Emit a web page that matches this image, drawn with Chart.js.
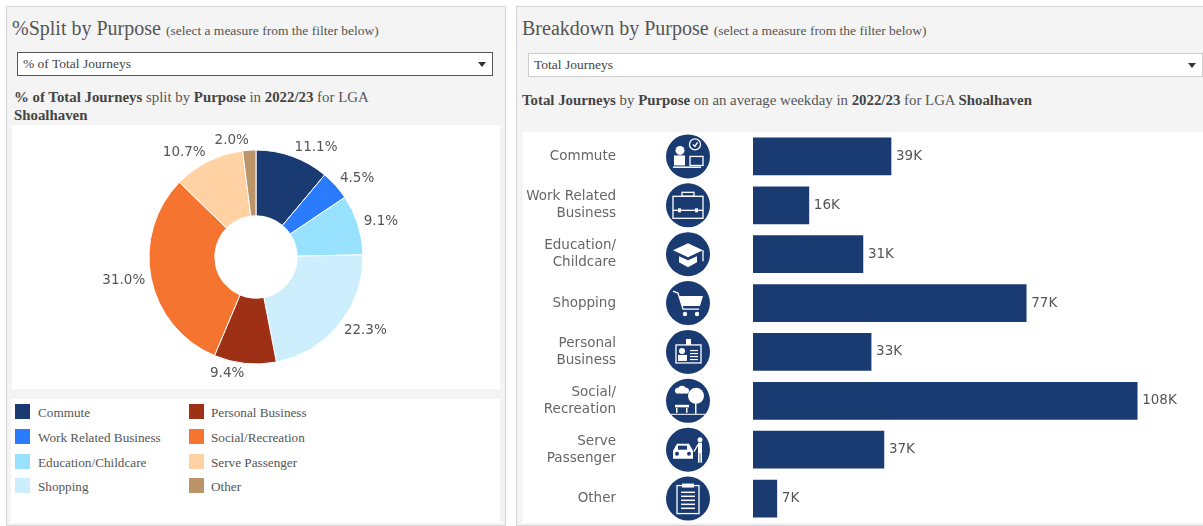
<!DOCTYPE html>
<html>
<head>
<meta charset="utf-8">
<title>Purpose split and breakdown</title>
<script src="https://cdn.jsdelivr.net/npm/chart.js@4/dist/chart.umd.min.js"></script>
<style>
  html, body { margin: 0; padding: 0; background: #fff; }
  body { width: 1203px; height: 526px; position: relative; overflow: hidden; font-family: "Liberation Serif", serif; color: #555; }
  .panel { position: absolute; background: #f4f4f4; border: 1px solid #d4d4d4; box-sizing: border-box; }
  .box { position: absolute; background: #fff; }
  .head { position: absolute; white-space: nowrap; font-size: 20px; color: #555; }
  .head small { font-size: 13.5px; }
  .note { position: absolute; font-size: 14.85px; line-height: 18px; color: #555; }
  .note b { color: #444; }
  .filter { position: absolute; background: #fff; box-sizing: border-box; font-size: 13.5px; color: #444; line-height: 22px; padding-left: 5px; }
  .filter:after { content: ""; position: absolute; right: 6px; top: 9px; border: 4px solid transparent; border-top: 5px solid #333; border-bottom: 0; }
  .swatch { position: absolute; width: 15px; height: 15px; }
  .key { position: absolute; font-size: 13.2px; line-height: 15px; white-space: nowrap; }
  canvas { position: absolute; left: 0; top: 0; }
</style>
</head>
<body>
<div class="panel" style="left:6px;top:6px;width:500px;height:520px"></div>
<div class="panel" style="left:516px;top:6px;width:690px;height:520px"></div>

<div class="head" style="left:12px;top:17px">%Split by Purpose <small>(select a measure from the filter below)</small></div>
<div class="filter" style="left:17px;top:52px;width:476px;height:24px;border:1px solid #555">% of Total Journeys</div>
<div class="note" style="left:14px;top:88px;width:370px"><b>% of Total Journeys</b> split by <b>Purpose</b> in <b>2022/23</b> for LGA <b>Shoalhaven</b></div>
<div class="box" style="left:12px;top:125px;width:488px;height:264px"><canvas id="pieChart" width="488" height="264"></canvas></div>
<div class="box" id="legendBox" style="left:11px;top:399px;width:489px;height:124px"></div>

<div class="head" style="left:522px;top:17px">Breakdown by Purpose <small>(select a measure from the filter below)</small></div>
<div class="filter" style="left:528px;top:53px;width:675px;height:24px;border:1px solid #ccc">Total Journeys</div>
<div class="note" style="left:522px;top:91px;white-space:nowrap"><b>Total Journeys</b> by <b>Purpose</b> on an average weekday in <b>2022/23</b> for LGA <b>Shoalhaven</b></div>
<div class="box" style="left:523px;top:132px;width:680px;height:391px"><canvas id="barChart" width="680" height="391"></canvas></div>

<script>
const purposes = ["Commute", "Work Related Business", "Education/Childcare", "Shopping", "Personal Business", "Social/Recreation", "Serve Passenger", "Other"];
const barLabels = [["Commute"], ["Work Related", "Business"], ["Education/", "Childcare"], ["Shopping"], ["Personal", "Business"], ["Social/", "Recreation"], ["Serve", "Passenger"], ["Other"]];
const sharePct = [11.1, 4.5, 9.1, 22.3, 9.4, 31.0, 10.7, 2.0];
const journeysK = [38.8, 15.7, 30.9, 76.8, 33.2, 108, 36.8, 6.7];
const purposeColors = ["#1a3a72", "#2b7bff", "#99e2ff", "#cdeefd", "#9e3015", "#f57430", "#ffd1a3", "#bb9568"];

const labelFont = '13.5px "DejaVu Sans"';
const navy = "#1a3a72";

// legend is two columns of four
const legendBox = document.getElementById("legendBox");
purposes.forEach((name, i) => {
    const col = i < 4 ? 0 : 1;
    const rowTop = [5, 30, 55, 79][i % 4];
    const sw = document.createElement("div");
    sw.className = "swatch";
    sw.style.cssText = `left:${col ? 178 : 4}px;top:${rowTop}px;background:${purposeColors[i]}`;
    const key = document.createElement("div");
    key.className = "key";
    key.style.cssText = `left:${col ? 200 : 27}px;top:${rowTop + 1}px`;
    key.textContent = name;
    legendBox.append(sw, key);
});

// Percent labels outside the doughnut, text hangs away from the centre
const sliceLabels = {
    id: "sliceLabels",
    afterDatasetsDraw(chart) {
        const ctx = chart.ctx;
        ctx.save();
        ctx.font = labelFont;
        ctx.fillStyle = "#555";
        ctx.textBaseline = "middle";
        chart.getDatasetMeta(0).data.forEach((arc, i) => {
            const mid = (arc.startAngle + arc.endAngle) / 2;
            const cos = Math.cos(mid);
            const sin = Math.sin(mid);
            ctx.textAlign = cos >= 0 ? "left" : "right";
            ctx.fillText(sharePct[i].toFixed(1) + "%", arc.x + cos * (arc.outerRadius + 6), arc.y + sin * (arc.outerRadius + 10));
        });
        ctx.restore();
    }
};

new Chart(document.getElementById("pieChart"), {
    type: "doughnut",
    data: {
        labels: purposes,
        datasets: [{
            data: sharePct,
            backgroundColor: purposeColors,
            borderColor: "#fff",
            borderWidth: 1,
            radius: 107,
            cutout: "38.5%"
        }]
    },
    options: {
        responsive: false,
        animation: false,
        plugins: { legend: { display: false }, tooltip: { enabled: false } }
    },
    plugins: [sliceLabels]
});

// White glyphs for the round icons, drawn around the circle centre
function line(ctx, pts, close) {
    ctx.beginPath();
    pts.forEach((p, i) => i ? ctx.lineTo(p[0], p[1]) : ctx.moveTo(p[0], p[1]));
    if (close) ctx.closePath();
}
function dot(ctx, x, y, r) {
    ctx.beginPath();
    ctx.arc(x, y, r, 0, Math.PI * 2);
    ctx.fill();
}
const iconGlyphs = [
    ctx => { // person at laptop with clock
        dot(ctx, -8, -6, 4.5);
        ctx.fillRect(-14, -1, 11, 10);
        ctx.fillRect(-15, 10, 28, 1.5);
        ctx.strokeRect(2, 0, 13, 9);
        ctx.beginPath(); ctx.arc(7, -12, 5.5, 0, Math.PI * 2); ctx.stroke();
        line(ctx, [[5, -12], [7, -10], [9.5, -14]]); ctx.stroke();
    },
    ctx => { // briefcase
        ctx.strokeRect(-15, -9, 30, 22);
        ctx.strokeRect(-6, -13, 12, 4);
        line(ctx, [[-15, 5], [15, 5]]); ctx.stroke();
        ctx.fillRect(-10, 3, 3, 4);
        ctx.fillRect(7, 3, 3, 4);
    },
    ctx => { // mortar board
        line(ctx, [[-15, -4], [0, -11], [15, -4], [0, 3]], true); ctx.fill();
        line(ctx, [[-9, 2], [0, 6], [9, 2], [9, 8], [0, 13], [-9, 8]], true); ctx.fill();
        line(ctx, [[15, -4], [15, 7]]); ctx.stroke();
    },
    ctx => { // trolley
        line(ctx, [[-15, -12], [-10, -10], [-5, 6], [11, 6]]); ctx.stroke();
        line(ctx, [[-9, -7], [15, -7], [12, 3], [-6, 3]], true); ctx.fill();
        dot(ctx, -3, 11, 2.2);
        dot(ctx, 9, 11, 2.2);
    },
    ctx => { // ID card
        ctx.strokeRect(-12, -7, 25, 18);
        ctx.fillRect(-2, -13, 5, 6);
        dot(ctx, -6, -1, 3);
        ctx.fillRect(-10, 3, 9, 6);
        for (let k = 0; k < 4; k++) ctx.fillRect(2, -2 + k * 3, 8, 1.2);
    },
    ctx => { // park bench, cloud and tree
        dot(ctx, -10, -10, 3); dot(ctx, -6, -11, 4); dot(ctx, -2, -10, 3);
        dot(ctx, 8, -5, 8);
        ctx.fillRect(7, 2, 1.5, 11);
        ctx.fillRect(-13, 4, 14, 2.5);
        ctx.fillRect(-12, 7, 1.5, 5);
        ctx.fillRect(-2, 7, 1.5, 5);
        ctx.fillRect(-18, 13, 36, 1);
    },
    ctx => { // car and person
        line(ctx, [[-15, 9], [-15, 1], [-11, -6], [1, -6], [5, 1], [5, 9]], true); ctx.fill();
        ctx.fillStyle = navy;
        ctx.fillRect(-10, -4, 9, 4);
        dot(ctx, -11, 4, 2);
        dot(ctx, 1, 4, 2);
        ctx.fillStyle = "#fff";
        dot(ctx, 12, -10, 2.5);
        ctx.fillRect(10, -7, 4, 11);
        ctx.fillRect(10, 4, 1.6, 9);
        ctx.fillRect(12.4, 4, 1.6, 9);
        line(ctx, [[10, -5], [6, 2]]); ctx.stroke();
    },
    ctx => { // clipboard
        ctx.strokeRect(-11, -13, 22, 28);
        ctx.fillRect(-6, -15, 12, 4);
        for (let k = 0; k < 5; k++) ctx.fillRect(-7, -7 + k * 4, 14, 1.5);
    }
];

const sideIcons = {
    id: "sideIcons",
    afterDraw(chart) {
        const ctx = chart.ctx;
        const yScale = chart.scales.y;
        const iconX = chart.chartArea.left - 65;
        purposes.forEach((name, i) => {
            const y = yScale.getPixelForTick(i);
            ctx.save();
            ctx.translate(iconX, y);
            ctx.fillStyle = navy;
            dot(ctx, 0, 0, 22);
            ctx.fillStyle = "#fff";
            ctx.strokeStyle = "#fff";
            ctx.lineWidth = 1.3;
            iconGlyphs[i](ctx);
            ctx.restore();
        });
    }
};

// Value labels at the end of each bar
const barValues = {
    id: "barValues",
    afterDatasetsDraw(chart) {
        const ctx = chart.ctx;
        ctx.save();
        ctx.font = labelFont;
        ctx.fillStyle = "#555";
        ctx.textBaseline = "middle";
        chart.getDatasetMeta(0).data.forEach((bar, i) => {
            ctx.fillText(Math.round(journeysK[i]) + "K", bar.x + 5, bar.y);
        });
        ctx.restore();
    }
};

new Chart(document.getElementById("barChart"), {
    type: "bar",
    data: {
        labels: barLabels,
        datasets: [{
            data: journeysK,
            backgroundColor: navy,
            barThickness: 37
        }]
    },
    options: {
        indexAxis: "y",
        responsive: false,
        animation: false,
        layout: { padding: 0 },
        scales: {
            x: { display: false, min: 0, max: 126.5 },
            y: {
                // tick padding also pads top and bottom, so clear that here
                afterFit(axis) {
                    axis.width = 230;
                    axis.paddingTop = 0;
                    axis.paddingBottom = 0;
                },
                grid: { display: false },
                border: { display: false },
                ticks: {
                    padding: 129,
                    autoSkip: false,
                    color: "#666",
                    font: { family: "DejaVu Sans", size: 13.5, lineHeight: 1.26 }
                }
            }
        },
        plugins: { legend: { display: false }, tooltip: { enabled: false } }
    },
    plugins: [sideIcons, barValues]
});
</script>
</body>
</html>
